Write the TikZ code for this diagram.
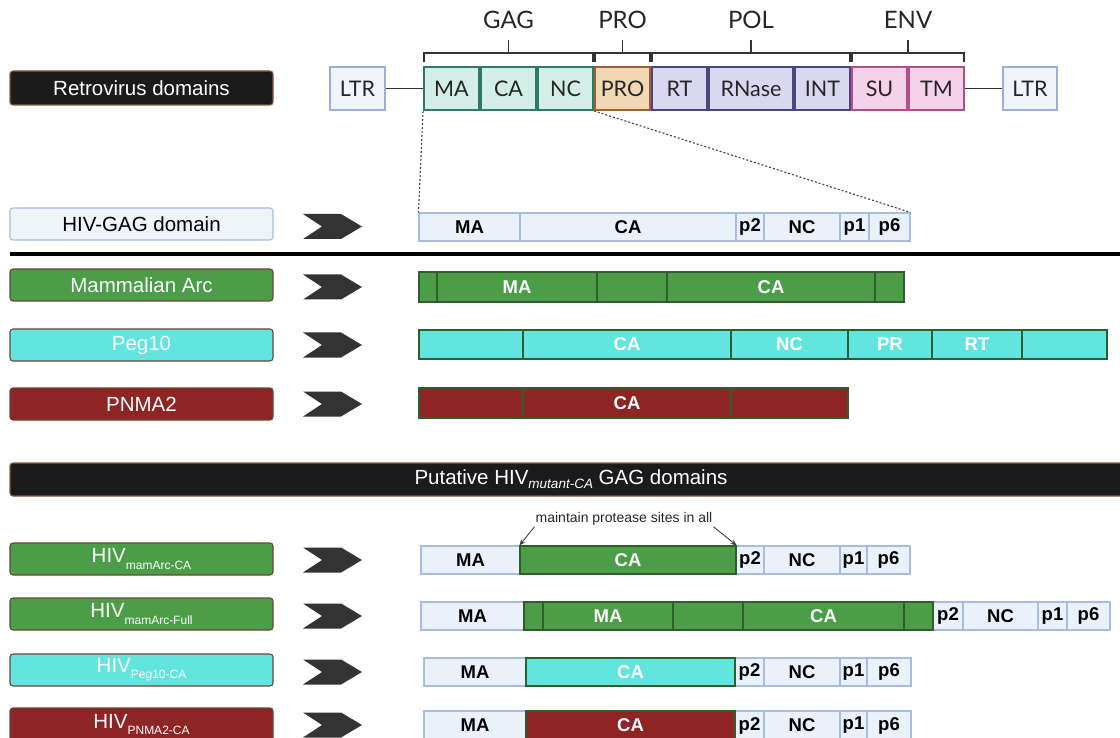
\documentclass[tikz,border=0pt]{standalone}
\usepackage{fontspec}
\setmainfont{Liberation Sans}
\newfontfamily\lato{Lato}
\usetikzlibrary{arrows.meta,calc}
\definecolor{blk}{HTML}{1B1B1B}
\definecolor{brownb}{HTML}{8A5A3A}
\definecolor{lbb}{HTML}{6B4636}
\definecolor{hivf}{HTML}{EAF1FB}
\definecolor{hivb}{HTML}{A8BCDF}
\definecolor{lblf}{HTML}{EFF3FA}
\definecolor{arcg}{HTML}{4B9E47}
\definecolor{pegc}{HTML}{62E5DF}
\definecolor{pnr}{HTML}{8E2424}
\definecolor{barb}{HTML}{2F5E2B}
\definecolor{gagf}{HTML}{D3EEE6}
\definecolor{gagb}{HTML}{2F7A66}
\definecolor{prof}{HTML}{F0D8B4}
\definecolor{prob}{HTML}{A05F2C}
\definecolor{polf}{HTML}{DAD7F0}
\definecolor{polb}{HTML}{4B4680}
\definecolor{envf}{HTML}{F6D2EA}
\definecolor{envb}{HTML}{B14F86}
\definecolor{ltrf}{HTML}{F1F5FB}
\definecolor{ltrb}{HTML}{9AB0D6}
\definecolor{chevc}{HTML}{333333}
\newcommand\sg[7]{\node[#6, minimum width={(#3-#2)*1pt}, minimum height={(#5-#4)*1pt}] (#1) at ({(#2+#3)/2},{(#4+#5)/2}) {#7};}
\newcommand\lbox[5]{\node[#4, minimum width=263pt, minimum height={(#3-#2)*1pt}] (#1) at (141.5,{(#2+#3)/2}) {#5};}
\newcommand\chev[1]{\fill[chevc] (303,{#1-12.5}) -- (341,{#1-12.5}) -- (362,#1) -- (341,{#1+12.5}) -- (303,{#1+12.5}) -- (322,#1) -- cycle;}
\newcommand\sbs[1]{\raisebox{-0.3em}{\fontsize{12}{12}\selectfont #1}}
\begin{document}
\begin{tikzpicture}[x=1pt,y=-1pt,
  seg/.style={draw, line width=1.1pt, inner sep=0pt, font=\bfseries\fontsize{18.5}{18.5}\selectfont},
  hseg/.style={seg, draw=hivb, fill=hivf, text=black},
  gseg/.style={seg, draw=barb, fill=arcg, text=white},
  cseg/.style={seg, draw=barb, fill=pegc, text=white},
  rseg/.style={seg, draw=barb, fill=pnr, text=white},
  dom/.style={draw, line width=1.8pt, inner sep=0pt, font=\lato\fontsize{21.5}{21.5}\selectfont, text=black!85},
  gagd/.style={dom, draw=gagb, fill=gagf},
  prod/.style={dom, draw=prob, fill=prof},
  pold/.style={dom, draw=polb, fill=polf},
  envd/.style={dom, draw=envb, fill=envf},
  ltrd/.style={dom, draw=ltrb, fill=ltrf},
  grp/.style={font=\lato\fontsize{24}{24}\selectfont, text=black!85},
  brk/.style={draw=black!80, line width=1.8pt},
  lab/.style={draw, line width=1.1pt, rounded corners=3pt, inner sep=0pt, font=\fontsize{20.5}{20.5}\selectfont},
  lblk/.style={lab, draw=brownb, fill=blk, text=white},
  lhiv/.style={lab, draw=hivb, fill=lblf, text=black},
  lgrn/.style={lab, draw=lbb, fill=arcg, text=white},
  lcyn/.style={lab, draw=lbb, fill=pegc, text=white},
  lred/.style={lab, draw=lbb, fill=pnr, text=white},
  dotline/.style={draw=black!75, line width=1.1pt, dash pattern=on 2pt off 2pt},
  annarr/.style={draw=black!75, line width=0.9pt, -{Stealth[length=6pt,width=5pt]}}
]
\useasboundingbox (0,0) rectangle (1120,738);

% ---------- top: retrovirus domains ----------
\lbox{lRetro}{71}{105}{lblk}{Retrovirus domains}
\sg{LTRl}{330}{385}{67}{110}{ltrd}{LTR}
\sg{MAt}{424}{479}{67}{110}{gagd}{MA}
\sg{CAt}{481}{536}{67}{110}{gagd}{CA}
\sg{NCt}{538}{593}{67}{110}{gagd}{NC}
\sg{PROt}{595}{650}{67}{110}{prod}{PRO}
\sg{RTt}{652}{707}{67}{110}{pold}{RT}
\sg{RNt}{709}{793}{67}{110}{pold}{RNase}
\sg{INTt}{795}{850}{67}{110}{pold}{INT}
\sg{SUt}{852}{907}{67}{110}{envd}{SU}
\sg{TMt}{909}{964}{67}{110}{envd}{TM}
\sg{LTRr}{1003}{1057}{67}{110}{ltrd}{LTR}
\draw[brk] (LTRl) -- (MAt);
\draw[brk] (TMt) -- (LTRr);
\draw[brk] (424,62) -- (424,53) -- (593,53) -- (593,62) (508.5,53) -- (508.5,40);
\draw[brk] (595,62) -- (595,53) -- (650,53) -- (650,62) (622.5,53) -- (622.5,40);
\draw[brk] (652,62) -- (652,53) -- (850,53) -- (850,62) (751,53) -- (751,40);
\draw[brk] (852,62) -- (852,53) -- (964,53) -- (964,62) (908,53) -- (908,40);
\node[grp] (gGAG) at (508.5,20) {GAG};
\node[grp] (gPRO) at (622.5,20) {PRO};
\node[grp] (gPOL) at (751,20) {POL};
\node[grp] (gENV) at (908,20) {ENV};

% ---------- HIV-GAG ----------
\lbox{lHIV}{208}{240}{lhiv}{HIV-GAG domain}
\chev{226.5}
\sg{hMA}{419}{520}{213}{241}{hseg}{MA}
\sg{hCA}{520}{736}{213}{241}{hseg}{CA}
\sg{hp2}{736}{764}{213}{241}{hseg}{p2}
\sg{hNC}{764}{840}{213}{241}{hseg}{NC}
\sg{hp1}{840}{869}{213}{241}{hseg}{p1}
\sg{hp6}{869}{910}{213}{241}{hseg}{p6}
\draw[dotline] (MAt.south west) -- (hMA.north west);
\draw[dotline] (NCt.south east) -- (hp6.north east);

\draw[line width=4pt, black] (10,254) -- (1120,254);

% ---------- Mammalian Arc ----------
\lbox{lArc}{269}{301}{lgrn}{Mammalian Arc}
\chev{287}
\sg{a1}{419}{437}{272}{302}{gseg}{}
\sg{aMA}{437}{597}{272}{302}{gseg}{MA}
\sg{a3}{597}{667}{272}{302}{gseg}{}
\sg{aCA}{667}{875}{272}{302}{gseg}{CA}
\sg{a5}{875}{904}{272}{302}{gseg}{}

% ---------- Peg10 ----------
\lbox{lPeg}{329}{361}{lcyn}{Peg10}
\chev{345}
\sg{p1}{419}{523}{330}{359}{cseg}{}
\sg{pCA}{523}{731}{330}{359}{cseg}{CA}
\sg{pNC}{731}{848}{330}{359}{cseg}{NC}
\sg{pPR}{848}{932}{330}{359}{cseg}{PR}
\sg{pRT}{932}{1022}{330}{359}{cseg}{RT}
\sg{p6}{1022}{1107}{330}{359}{cseg}{}

% ---------- PNMA2 ----------
\lbox{lPN}{388}{420}{lred}{PNMA2}
\chev{404}
\sg{r1}{419}{523}{388}{418}{rseg}{}
\sg{rCA}{523}{731}{388}{418}{rseg}{CA}
\sg{r3}{731}{848}{388}{418}{rseg}{}

% ---------- header ----------
\node[lblk, minimum width=1122pt, minimum height=33pt] (hdr) at (571,479.5)
  {Putative HIV{\fontsize{13.5}{13.5}\selectfont\itshape\raisebox{-0.3em}{mutant-CA}} GAG domains};

% ---------- HIV mamArc-CA ----------
\lbox{lm}{543}{575}{lgrn}{HIV\sbs{mamArc-CA}}
\chev{560}
\sg{mMA}{421}{520}{546}{574}{hseg}{MA}
\sg{mp2}{736}{764}{546}{574}{hseg}{p2}
\sg{mNC}{764}{840}{546}{574}{hseg}{NC}
\sg{mp1}{840}{867}{546}{574}{hseg}{p1}
\sg{mp6}{867}{910}{546}{574}{hseg}{p6}
\sg{mCA}{520}{736}{546}{574}{gseg}{CA}
\node[font=\fontsize{14}{14}\selectfont, text=black!85, inner sep=1pt] (ann) at (624,519) {maintain protease sites in all};
\draw[annarr] (ann.south west) -- (mCA.north west);
\draw[annarr] (ann.south east) -- (mCA.north east);

% ---------- HIV mamArc-Full ----------
\lbox{lf}{598}{630}{lgrn}{HIV\sbs{mamArc-Full}}
\chev{616}
\sg{fMA}{421}{524}{602}{630}{hseg}{MA}
\sg{fp2}{933}{963}{602}{630}{hseg}{p2}
\sg{fNC}{963}{1038}{602}{630}{hseg}{NC}
\sg{fp1}{1038}{1067}{602}{630}{hseg}{p1}
\sg{fp6}{1067}{1110}{602}{630}{hseg}{p6}
\sg{f1}{524}{543}{602}{630}{gseg}{}
\sg{fMA2}{543}{673}{602}{630}{gseg}{MA}
\sg{f3}{673}{743}{602}{630}{gseg}{}
\sg{fCA}{743}{904}{602}{630}{gseg}{CA}
\sg{f5}{904}{933}{602}{630}{gseg}{}

% ---------- HIV Peg10-CA ----------
\lbox{lc}{654}{686}{lcyn}{HIV\sbs{Peg10-CA}}
\chev{672}
\sg{cMA}{424}{526}{658}{686}{hseg}{MA}
\sg{cp2}{735}{764}{658}{686}{hseg}{p2}
\sg{cNC}{764}{840}{658}{686}{hseg}{NC}
\sg{cp1}{840}{867}{658}{686}{hseg}{p1}
\sg{cp6}{867}{911}{658}{686}{hseg}{p6}
\sg{cCA}{526}{735}{658}{686}{cseg}{CA}

% ---------- HIV PNMA2-CA ----------
\lbox{lq}{708}{741}{lred}{HIV\sbs{PNMA2-CA}}
\chev{725}
\sg{qMA}{424}{526}{711}{740}{hseg}{MA}
\sg{qp2}{735}{764}{711}{740}{hseg}{p2}
\sg{qNC}{764}{840}{711}{740}{hseg}{NC}
\sg{qp1}{840}{867}{711}{740}{hseg}{p1}
\sg{qp6}{867}{911}{711}{740}{hseg}{p6}
\sg{qCA}{526}{735}{711}{740}{rseg}{CA}
\end{tikzpicture}
\end{document}
